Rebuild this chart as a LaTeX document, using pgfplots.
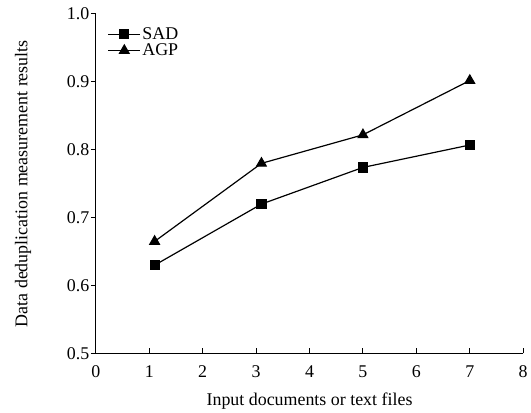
\documentclass[border=0pt]{standalone}
\usepackage{fontspec}
\setmainfont{Liberation Serif}
\usepackage{pgfplots}
\pgfplotsset{compat=1.18}

\begin{document}
\begin{tikzpicture}[font=\fontsize{18}{21}\selectfont]
\begin{axis}[
  name=main,
  scale only axis,
  width=428bp,
  height=340bp,
  xmin=0, xmax=8,
  ymin=0.5, ymax=1.0,
  xtick={0,1,...,8},
  ytick={0.5,0.6,...,1.0},
  axis x line*=bottom,
  axis y line*=left,
  axis line style={line width=1.1bp},
  tick align=inside,
  major tick length=5bp,
  tick style={line width=1bp, black},
  ytick style={xshift=-5bp},
  xticklabel style={yshift=-9bp},
  yticklabel style={xshift=-3bp},
  /pgf/number format/assume math mode=true,
  yticklabel={\pgfmathprintnumber[fixed,fixed zerofill,precision=1]{\tick}},
  xlabel={Input documents or text files},
  ylabel={Data deduplication measurement results},
  every axis x label/.style={at={(axis description cs:0.5,0)}, anchor=center, yshift=-47.5bp},
  every axis y label/.style={at={(axis description cs:0,0.5)}, anchor=center, rotate=90, yshift=73bp},
  legend style={draw=none, fill=none, at={(axis description cs:0.025,0.968)}, anchor=north west,
    row sep=0bp, inner sep=1bp, nodes={inner sep=1.5bp}},
  legend cell align=left,
  legend image code/.code={
    \draw[mark repeat=2,mark phase=2,#1] plot coordinates {(0bp,0bp) (16bp,0bp) (32bp,0bp)};
  },
  clip=false,
]
\addplot[black, line width=1.2bp, mark=square*, mark size=4.5bp, mark options={solid}]
  coordinates {(1.1,0.630) (3.1,0.720) (5.0,0.774) (7.0,0.807)};
\addplot[black, line width=1.2bp, mark=triangle*, mark size=5.5bp, mark options={solid}]
  coordinates {(1.1,0.665) (3.1,0.780) (5.0,0.822) (7.0,0.902)};
\legend{SAD,AGP}
\end{axis}
\path (main.south west) +(-96bp,-57bp);
\path (main.north east) +(7bp,14bp);
\end{tikzpicture}
\end{document}
